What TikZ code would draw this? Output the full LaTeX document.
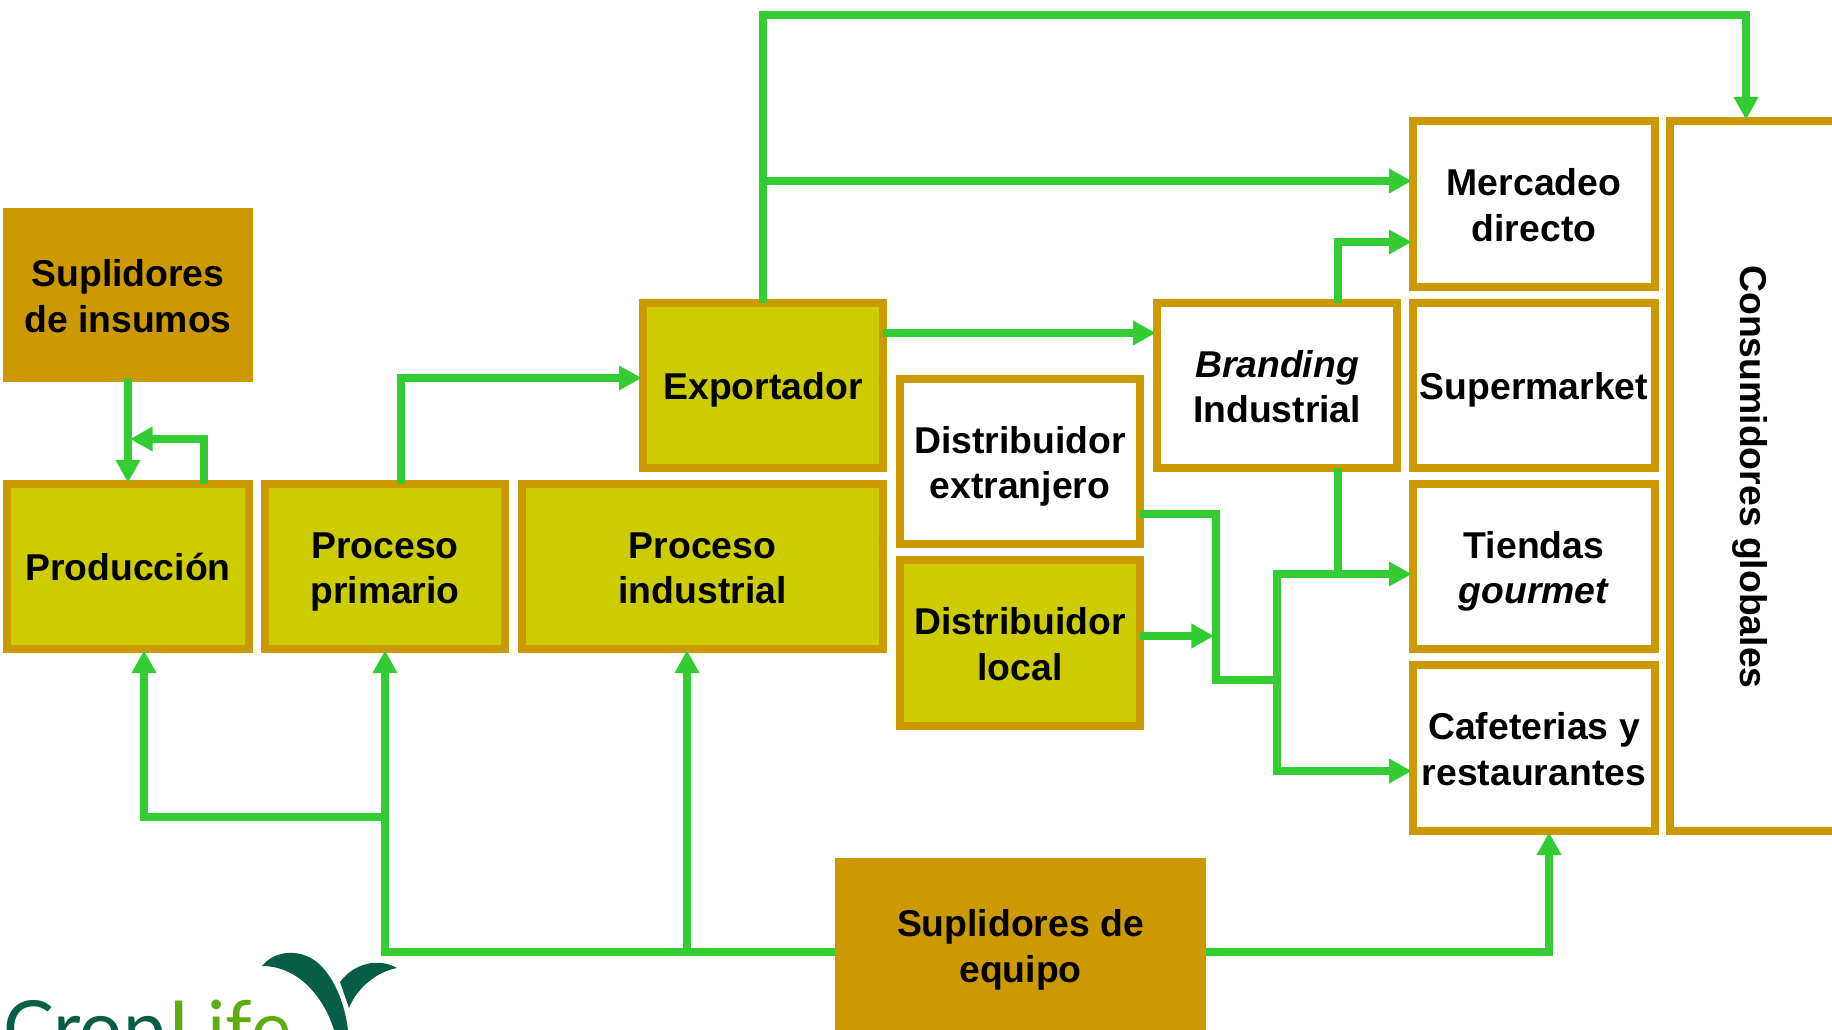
\documentclass[tikz,border=0pt]{standalone}
\usepackage{fontspec}
\setmainfont{Liberation Sans}
\newfontfamily\logofont{Lato}
\usetikzlibrary{arrows.meta}
\definecolor{borde}{HTML}{CC9900}
\definecolor{relleno}{HTML}{CCCC00}
\definecolor{verde}{HTML}{33CC33}
\definecolor{hoja}{HTML}{055E45}
\definecolor{vida}{HTML}{5CAD0F}
\newcommand{\renglon}{\rule[-6.2pt]{0pt}{34pt}}
\tikzset{
  caja/.style 2 args={draw=borde, line width=6pt, align=center, inner sep=0pt,
    minimum width=#1*0.75pt-6pt, minimum height=#2*0.75pt-6pt,
    font=\fontsize{28}{34}\selectfont\bfseries},
  blanca/.style={fill=white},
  activa/.style={fill=relleno},
  suplidor/.style={fill=borde},
  linea/.style={draw=verde, line width=6pt, shorten <=-3pt},
  flujo/.style={linea, shorten >=-2pt, -{Triangle[length=17pt, width=17.5pt]}}
}
\begin{document}
\begin{tikzpicture}[x=0.75pt, y=-0.75pt]
    \clip (0,0) rectangle (1832,1030);

    % Nodes
    \node[caja={250}{174}, suplidor] at (128, 295) (insumos) {\renglon Suplidores\\\renglon de insumos};
    \node[caja={250}{173}, activa] at (128, 566.5) (produccion) {\renglon Producción};
    \node[caja={248}{173}, activa] at (385, 566.5) (primario) {\renglon Proceso\\\renglon primario};
    \node[caja={369}{173}, activa] at (702.5, 566.5) (industrial) {\renglon Proceso\\\renglon industrial};
    \node[caja={248}{173}, activa] at (763, 385.5) (exportador) {\renglon Exportador};
    \node[caja={248}{173}, blanca] at (1020, 461.5) (extranjero) {\renglon Distribuidor\\\renglon extranjero};
    \node[caja={248}{174}, activa] at (1020, 643) (local) {\renglon Distribuidor\\\renglon local};
    \node[caja={248}{173}, blanca] at (1277, 385.5) (branding) {\renglon\textit{Branding}\\\renglon Industrial};
    \node[caja={250}{174}, blanca] at (1534, 204) (mercadeo) {\renglon Mercadeo\\\renglon directo};
    \node[caja={250}{173}, blanca] at (1534, 385.5) (super) {\renglon Supermarket};
    \node[caja={250}{173}, blanca] at (1534, 566.5) (tiendas) {\renglon Tiendas\\\renglon\textit{gourmet}};
    \node[caja={250}{174}, blanca] at (1534, 748) (cafeterias) {\renglon Cafeterias y\\\renglon restaurantes};
    \node[caja={234}{718}, blanca] at (1783, 476) (consumidores) {};
    \node[font=\fontsize{28}{34}\selectfont\bfseries, rotate=-90, inner sep=0pt] at (1750, 477) (globales) {Consumidores globales};
    \node[caja={371}{174}, suplidor] at (1020.5, 945) (equipo) {\renglon Suplidores de\\\renglon equipo};

    % Logo
    \fill[hoja] (262,966) .. controls (275,950) and (300,948) .. (318,963)
      .. controls (335,978) and (345,1005) .. (348,1030) -- (334,1030)
      .. controls (325,1000) and (300,966) .. cycle;
    \fill[hoja] (397,968) .. controls (380,958) and (355,962) .. (340,982)
      -- (349,1008) .. controls (356,990) and (375,972) .. cycle;
    \node[font=\fontsize{57}{57}\selectfont\logofont, text=hoja, anchor=base west, inner sep=0pt] at (3, 1055) (crop) {Crop};
    \node[font=\fontsize{57}{57}\selectfont\logofont, text=vida, anchor=base west, inner sep=0pt] at (168, 1055) (life) {Life};

    % Junctions
    \coordinate (tope) at (1746, 15);
    \coordinate (directo) at (763, 181);
    \coordinate (marca) at (1338, 242);
    \coordinate (marcasale) at (1338, 574);
    \coordinate (venta) at (1277, 574);
    \coordinate (ventaabajo) at (1277, 771);
    \coordinate (cruce) at (1216, 680);
    \coordinate (externo) at (1216, 514);
    \coordinate (interno) at (1216, 636);
    \coordinate (retorno) at (204, 439);
    \coordinate (subida) at (401, 378);
    \coordinate (exporta) at (887, 333);
    \coordinate (ramal) at (144, 817);
    \coordinate (base) at (385, 952);
    \coordinate (planta) at (687, 952);
    \coordinate (cafe) at (1549, 952);

    % Connectors
    \draw[flujo] (exportador.north) |- (tope) -- (tope |- consumidores.north);
    \draw[flujo] (directo) -- (directo -| mercadeo.west);
    \draw[flujo] (exporta) -- (exporta -| branding.west);
    \draw[flujo] (marca |- branding.north) -- (marca) -- (marca -| mercadeo.west);
    \draw[linea] (marca |- branding.south) -- (marcasale);
    \draw[flujo] (ventaabajo) -- (venta) -- (venta -| tiendas.west);
    \draw[flujo] (venta) -- (ventaabajo) -- (ventaabajo -| cafeterias.west);
    \draw[linea] (externo -| extranjero.east) -- (externo) -- (cruce) -- (cruce -| venta);
    \draw[flujo, shorten >=1.5pt] (interno -| local.east) -- (interno);

    \draw[flujo] (insumos) -- (produccion);
    \draw[flujo, shorten >=1.5pt] (retorno |- produccion.north) -- (retorno) -- (retorno -| insumos.south);
    \draw[flujo] (subida |- primario.north) -- (subida) -- (subida -| exportador.west);

    \draw[flujo, shorten <=0pt] (equipo.west |- base) -- (base) -- (primario.south);
    \draw[flujo] (planta) -- (planta |- industrial.south);
    \draw[flujo] (base |- ramal) -- (ramal) -- (ramal |- produccion.south);
    \draw[flujo, shorten <=0pt] (equipo.east |- cafe) -- (cafe) -- (cafe |- cafeterias.south);

\end{tikzpicture}
\end{document}
